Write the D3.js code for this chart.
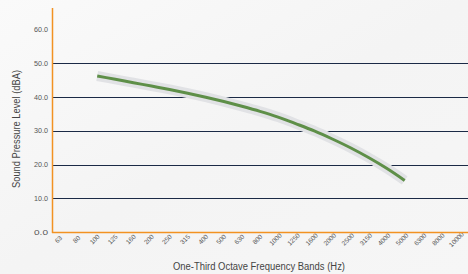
<!DOCTYPE html>
<html>
<head>
<meta charset="utf-8">
<script src="https://cdn.jsdelivr.net/npm/d3@7"></script>
<style>
  body { margin: 0; }
  svg { display: block; }
  text { font-family: "Liberation Sans", Arial, sans-serif; }
</style>
</head>
<body>
<svg id="chart" width="468" height="274"></svg>
<script>
// one-third octave bands shown on the x axis
const bands = ["63", "80", "100", "125", "160", "200", "250", "315", "400", "500", "630", "800",
    "1000", "1250", "1600", "2000", "2500", "3150", "4000", "5000", "6300", "8000", "10000"];
// bands that carry a measured level
const levelBands = ["100", "125", "160", "200", "250", "315", "400", "500", "630", "800", "1000",
    "1250", "1600", "2000", "2500", "3150", "4000", "5000"];
const levels = [46.3, 45.3, 44.3, 43.3, 42.3, 41.2, 40.0, 38.7, 37.3, 35.8, 34.1, 32.1,
    30.0, 27.6, 25.0, 22.1, 18.9, 15.3];
const yTicks = [0, 10, 20, 30, 40, 50, 60];
const gridTicks = [10, 20, 30, 40, 50];

let svg = d3.select("#chart");
let W = 468, H = 274;
let padLeft = 52, axisY = 232, axisTop = 8;

// background
let defs = svg.append("defs");
let grad = defs.append("linearGradient").attr("id", "bg")
    .attr("x1", "0").attr("y1", "0").attr("x2", "1").attr("y2", "1");
grad.append("stop").attr("offset", "0").attr("stop-color", "#fafafa");
grad.append("stop").attr("offset", "0.5").attr("stop-color", "#f4f4f4");
grad.append("stop").attr("offset", "1").attr("stop-color", "#f6f6f6");
svg.append("rect").attr("width", W).attr("height", H).attr("fill", "url(#bg)");

let x = d3.scalePoint().domain(bands).range([padLeft, W]).padding(0.5);
let y = d3.scaleLinear().domain([0, 60]).range([axisY, axisY - 60 * 3.37]);

// gridlines
svg.append("g").selectAll("line").data(gridTicks).enter().append("line")
    .attr("x1", padLeft).attr("x2", W)
    .attr("y1", d => Math.round(y(d)) + 0.5).attr("y2", d => Math.round(y(d)) + 0.5)
    .attr("stroke", "#1b2a46").attr("stroke-width", 1);

// y tick labels
svg.append("g").selectAll("text").data(yTicks).enter().append("text")
    .attr("x", padLeft - 4).attr("y", d => y(d) + 2.5)
    .attr("text-anchor", "end").attr("font-size", 7.5)
    .attr("textLength", 14).attr("lengthAdjust", "spacingAndGlyphs")
    .attr("fill", "#555").text(d => d.toFixed(1));

// x tick labels
svg.append("g").selectAll("text").data(bands).enter().append("text")
    .attr("transform", d => "translate(" + (x(d) - 1) + "," + 241 + ") rotate(-45)")
    .attr("text-anchor", "middle").attr("font-size", 6.5)
    .attr("fill", "#555").text(d => d);

// level curve
let line = d3.line().x((d, i) => x(levelBands[i])).y(d => y(d)).curve(d3.curveMonotoneX);
svg.append("path").datum(levels).attr("d", line)
    .attr("fill", "none").attr("stroke", "#e1e2e5").attr("stroke-width", 10);
svg.append("path").datum(levels).attr("d", line)
    .attr("fill", "none").attr("stroke", "#5e8f48").attr("stroke-width", 3);

// axes (orange)
svg.append("line").attr("x1", padLeft + 0.5).attr("x2", padLeft + 0.5).attr("y1", axisTop).attr("y2", axisY + 1)
    .attr("stroke", "#f29222").attr("stroke-width", 1.5);
svg.append("line").attr("x1", padLeft).attr("x2", W).attr("y1", axisY + 0.5).attr("y2", axisY + 0.5)
    .attr("stroke", "#f29222").attr("stroke-width", 1.5);

// axis titles
svg.append("text")
    .attr("x", (173 + 345) / 2).attr("y", 270).attr("text-anchor", "middle")
    .attr("font-size", 10).attr("textLength", 172).attr("lengthAdjust", "spacingAndGlyphs")
    .attr("fill", "#444").text("One-Third Octave Frequency Bands (Hz)");
svg.append("text")
    .attr("transform", "translate(20,129) rotate(-90)").attr("text-anchor", "middle")
    .attr("font-size", 10).attr("textLength", 118).attr("lengthAdjust", "spacingAndGlyphs")
    .attr("fill", "#444").text("Sound Pressure Level (dBA)");
</script>
</body>
</html>
